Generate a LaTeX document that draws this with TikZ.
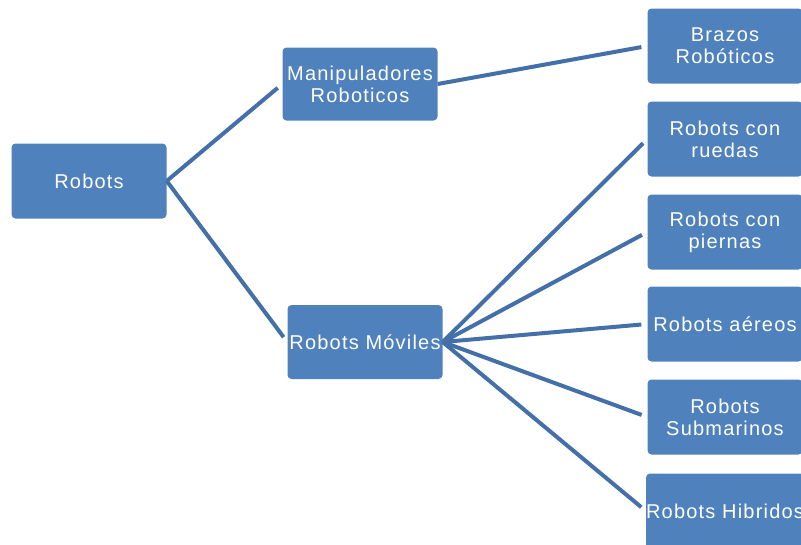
\documentclass[tikz,border=0pt]{standalone}
\usepackage{fontspec}
\newfontfamily\boxfont{Liberation Sans}[LetterSpace=6]
\usepackage{tikz}
\definecolor{boxblue}{RGB}{79,129,189}
\definecolor{lineblue}{RGB}{68,112,170}
\tikzset{
  box/.style={rounded corners=4pt, fill=boxblue, text=white, align=center,
    minimum width=155pt, minimum height=75pt, inner sep=0pt,
    font=\boxfont\fontsize{20}{22}\selectfont},
  link/.style={draw=lineblue, line width=4pt, shorten >=6pt}
}
\begin{document}
\begin{tikzpicture}[x=1pt,y=-1pt]
    \useasboundingbox (0,0) rectangle (801,544);
    % left and middle
    \node[box] (robots) at (89,181) {Robots};
    \node[box, minimum height=73pt] (manip) at (360,84) {Manipuladores\\Roboticos};
    \node[box, minimum height=74pt] (moviles) at (365,342) {Robots M\'oviles};
    % right column
    \node[box] (brazos) at (725,46) {Brazos\\Rob\'oticos};
    \node[box] (ruedas) at (725,139) {Robots con\\ruedas};
    \node[box] (piernas) at (725,232) {Robots con\\piernas};
    \node[box] (aereos) at (725,324) {Robots a\'ereos};
    \node[box] (submar) at (725,417) {Robots\\Submarinos};
    \node[box] (hibridos) at (725,511) {Robots Hibridos};
    % connectors
    \draw[link] (robots.east) -- (manip.west);
    \draw[link] (robots.east) -- (moviles.west);
    \draw[link] (manip.east) -- (brazos.west);
    \draw[link] (moviles.east) -- (ruedas.west);
    \draw[link] (moviles.east) -- (piernas.west);
    \draw[link] (moviles.east) -- (aereos.west);
    \draw[link] (moviles.east) -- (submar.west);
    \draw[link] (moviles.east) -- (hibridos.west);
\end{tikzpicture}
\end{document}
